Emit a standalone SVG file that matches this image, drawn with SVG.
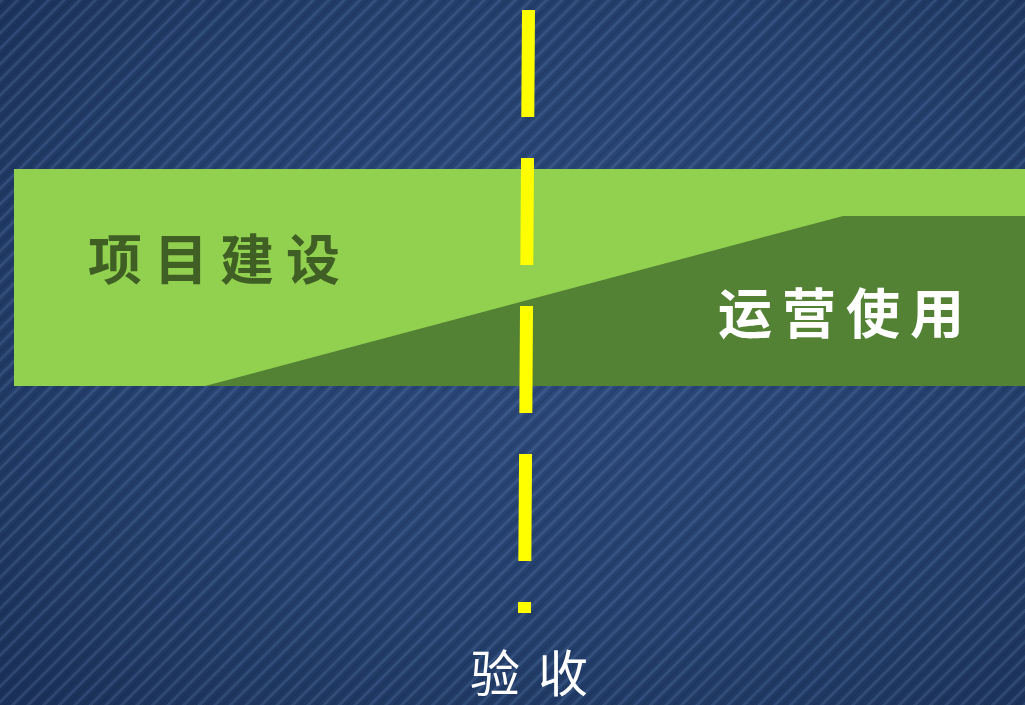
<svg xmlns="http://www.w3.org/2000/svg" width="1025" height="705" viewBox="0 0 1025 705">
  <defs>
    <radialGradient id="bgGrad" cx="0.55" cy="0.45" r="0.75">
      <stop offset="0" stop-color="#2c4a7c"/>
      <stop offset="0.6" stop-color="#243f6c"/>
      <stop offset="1" stop-color="#1b3159"/>
    </radialGradient>
    <pattern id="stripes" width="11" height="11" patternUnits="userSpaceOnUse" patternTransform="rotate(45)">
      <rect x="0" y="0" width="3" height="11" fill="#7594c8" fill-opacity="0.2"/>
      <rect x="6" y="0" width="2" height="11" fill="#0c1a33" fill-opacity="0.15"/>
    </pattern>
    <style>
      .cjk { font-family: "Noto Sans CJK SC", "Noto Sans", sans-serif; }
      .dash { stroke: #FFFF00; stroke-width: 13; stroke-dasharray: 107 41; fill: none; }
    </style>
  </defs>

  <g id="background">
    <rect x="0" y="0" width="1025" height="705" fill="url(#bgGrad)"/>
    <rect x="0" y="0" width="1025" height="705" fill="url(#stripes)"/>
  </g>

  <g id="band">
    <rect x="14" y="169" width="1011" height="217" fill="#92D050"/>
    <polygon points="205,386 843,216 1025,216 1025,386" fill="#548235"/>
  </g>

  <g id="node-build">
    <text class="cjk" x="88" y="280" font-size="54" font-weight="700" letter-spacing="12" fill="#3f5f24">项目建设</text>
  </g>

  <g id="node-operate">
    <text class="cjk" x="718" y="334" font-size="54" font-weight="700" letter-spacing="10" fill="#ffffff">运营使用</text>
  </g>

  <g id="connectors">
    <line class="dash" x1="528.5" y1="10" x2="524.5" y2="613"/>
  </g>

  <g id="node-accept">
    <text class="cjk" x="470" y="692" font-size="50" font-weight="400" letter-spacing="18" fill="#ffffff">验收</text>
  </g>
</svg>
